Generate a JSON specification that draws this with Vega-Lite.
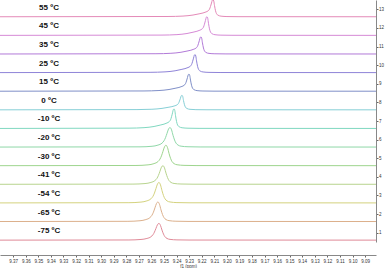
{
"$schema":"https://vega.github.io/schema/vega-lite/v6.json",
"autosize":"none","padding":{"left":0,"top":0,"right":9,"bottom":26},"width":376,"height":242,
"background":"white",
"config":{"view":{"stroke":null},"font":"Liberation Sans","axis":{"labelOverlap":false,"labelSeparation":0,"labelBound":false}},
"datasets":{
"labels":[{"t":"55 ºC","level":12.6},{"t":"45 ºC","level":11.6},{"t":"35 ºC","level":10.6},{"t":"25 ºC","level":9.6},{"t":"15 ºC","level":8.6},{"t":"0 ºC","level":7.6},{"t":"-10 ºC","level":6.6},{"t":"-20 ºC","level":5.6},{"t":"-30 ºC","level":4.6},{"t":"-41 ºC","level":3.6},{"t":"-54 ºC","level":2.6},{"t":"-65 ºC","level":1.6},{"t":"-75 ºC","level":0.6}],
"spec":[
{"t":"55 ºC","ppm":9.3805,"i":12.6},{"t":"55 ºC","ppm":9.2468,"i":12.614},{"t":"55 ºC","ppm":9.2349,"i":12.637},{"t":"55 ºC","ppm":9.2269,"i":12.692},{"t":"55 ºC","ppm":9.2221,"i":12.756},{"t":"55 ºC","ppm":9.2190,"i":12.802},{"t":"55 ºC","ppm":9.2166,"i":12.858},{"t":"55 ºC","ppm":9.2150,"i":12.913},{"t":"55 ºC","ppm":9.2138,"i":13.005},{"t":"55 ºC","ppm":9.2130,"i":13.152},{"t":"55 ºC","ppm":9.2122,"i":13.336},{"t":"55 ºC","ppm":9.2116,"i":13.483},{"t":"55 ºC","ppm":9.2110,"i":13.52},{"t":"55 ºC","ppm":9.2104,"i":13.446},{"t":"55 ºC","ppm":9.2098,"i":13.198},{"t":"55 ºC","ppm":9.2090,"i":12.922},{"t":"55 ºC","ppm":9.2082,"i":12.766},{"t":"55 ºC","ppm":9.2070,"i":12.683},{"t":"55 ºC","ppm":9.2046,"i":12.632},{"t":"55 ºC","ppm":9.1999,"i":12.611},{"t":"55 ºC","ppm":9.1911,"i":12.604},{"t":"55 ºC","ppm":9.0813,"i":12.6},
{"t":"45 ºC","ppm":9.3805,"i":11.6},{"t":"45 ºC","ppm":9.2516,"i":11.615},{"t":"45 ºC","ppm":9.2397,"i":11.64},{"t":"45 ºC","ppm":9.2317,"i":11.7},{"t":"45 ºC","ppm":9.2269,"i":11.77},{"t":"45 ºC","ppm":9.2238,"i":11.82},{"t":"45 ºC","ppm":9.2214,"i":11.88},{"t":"45 ºC","ppm":9.2198,"i":11.94},{"t":"45 ºC","ppm":9.2186,"i":12.04},{"t":"45 ºC","ppm":9.2178,"i":12.2},{"t":"45 ºC","ppm":9.2170,"i":12.4},{"t":"45 ºC","ppm":9.2164,"i":12.56},{"t":"45 ºC","ppm":9.2158,"i":12.6},{"t":"45 ºC","ppm":9.2152,"i":12.52},{"t":"45 ºC","ppm":9.2146,"i":12.25},{"t":"45 ºC","ppm":9.2138,"i":11.95},{"t":"45 ºC","ppm":9.2130,"i":11.78},{"t":"45 ºC","ppm":9.2118,"i":11.69},{"t":"45 ºC","ppm":9.2094,"i":11.635},{"t":"45 ºC","ppm":9.2047,"i":11.612},{"t":"45 ºC","ppm":9.1959,"i":11.604},{"t":"45 ºC","ppm":9.0813,"i":11.6},
{"t":"35 ºC","ppm":9.3805,"i":10.6},{"t":"35 ºC","ppm":9.2564,"i":10.614},{"t":"35 ºC","ppm":9.2445,"i":10.637},{"t":"35 ºC","ppm":9.2365,"i":10.692},{"t":"35 ºC","ppm":9.2317,"i":10.756},{"t":"35 ºC","ppm":9.2286,"i":10.802},{"t":"35 ºC","ppm":9.2262,"i":10.858},{"t":"35 ºC","ppm":9.2246,"i":10.913},{"t":"35 ºC","ppm":9.2234,"i":11.005},{"t":"35 ºC","ppm":9.2226,"i":11.152},{"t":"35 ºC","ppm":9.2218,"i":11.336},{"t":"35 ºC","ppm":9.2212,"i":11.483},{"t":"35 ºC","ppm":9.2206,"i":11.52},{"t":"35 ºC","ppm":9.2200,"i":11.446},{"t":"35 ºC","ppm":9.2194,"i":11.198},{"t":"35 ºC","ppm":9.2186,"i":10.922},{"t":"35 ºC","ppm":9.2178,"i":10.766},{"t":"35 ºC","ppm":9.2166,"i":10.683},{"t":"35 ºC","ppm":9.2142,"i":10.632},{"t":"35 ºC","ppm":9.2095,"i":10.611},{"t":"35 ºC","ppm":9.2007,"i":10.604},{"t":"35 ºC","ppm":9.0813,"i":10.6},
{"t":"25 ºC","ppm":9.3805,"i":9.6},{"t":"25 ºC","ppm":9.2611,"i":9.615},{"t":"25 ºC","ppm":9.2492,"i":9.639},{"t":"25 ºC","ppm":9.2412,"i":9.697},{"t":"25 ºC","ppm":9.2364,"i":9.765},{"t":"25 ºC","ppm":9.2333,"i":9.813},{"t":"25 ºC","ppm":9.2309,"i":9.872},{"t":"25 ºC","ppm":9.2293,"i":9.93},{"t":"25 ºC","ppm":9.2281,"i":10.027},{"t":"25 ºC","ppm":9.2273,"i":10.182},{"t":"25 ºC","ppm":9.2265,"i":10.376},{"t":"25 ºC","ppm":9.2259,"i":10.531},{"t":"25 ºC","ppm":9.2253,"i":10.57},{"t":"25 ºC","ppm":9.2247,"i":10.492},{"t":"25 ºC","ppm":9.2241,"i":10.231},{"t":"25 ºC","ppm":9.2233,"i":9.94},{"t":"25 ºC","ppm":9.2225,"i":9.775},{"t":"25 ºC","ppm":9.2213,"i":9.687},{"t":"25 ºC","ppm":9.2189,"i":9.634},{"t":"25 ºC","ppm":9.2142,"i":9.612},{"t":"25 ºC","ppm":9.2054,"i":9.604},{"t":"25 ºC","ppm":9.0813,"i":9.6},
{"t":"15 ºC","ppm":9.3805,"i":8.6},{"t":"15 ºC","ppm":9.2659,"i":8.614},{"t":"15 ºC","ppm":9.2540,"i":8.637},{"t":"15 ºC","ppm":9.2460,"i":8.692},{"t":"15 ºC","ppm":9.2412,"i":8.756},{"t":"15 ºC","ppm":9.2381,"i":8.802},{"t":"15 ºC","ppm":9.2357,"i":8.858},{"t":"15 ºC","ppm":9.2341,"i":8.913},{"t":"15 ºC","ppm":9.2329,"i":9.005},{"t":"15 ºC","ppm":9.2321,"i":9.152},{"t":"15 ºC","ppm":9.2313,"i":9.336},{"t":"15 ºC","ppm":9.2307,"i":9.483},{"t":"15 ºC","ppm":9.2301,"i":9.52},{"t":"15 ºC","ppm":9.2295,"i":9.446},{"t":"15 ºC","ppm":9.2289,"i":9.198},{"t":"15 ºC","ppm":9.2281,"i":8.922},{"t":"15 ºC","ppm":9.2273,"i":8.766},{"t":"15 ºC","ppm":9.2261,"i":8.683},{"t":"15 ºC","ppm":9.2237,"i":8.632},{"t":"15 ºC","ppm":9.2190,"i":8.611},{"t":"15 ºC","ppm":9.2102,"i":8.604},{"t":"15 ºC","ppm":9.0813,"i":8.6},
{"t":"0 ºC","ppm":9.3805,"i":7.6},{"t":"0 ºC","ppm":9.2715,"i":7.612},{"t":"0 ºC","ppm":9.2596,"i":7.631},{"t":"0 ºC","ppm":9.2516,"i":7.678},{"t":"0 ºC","ppm":9.2468,"i":7.733},{"t":"0 ºC","ppm":9.2437,"i":7.772},{"t":"0 ºC","ppm":9.2413,"i":7.818},{"t":"0 ºC","ppm":9.2397,"i":7.865},{"t":"0 ºC","ppm":9.2385,"i":7.943},{"t":"0 ºC","ppm":9.2377,"i":8.068},{"t":"0 ºC","ppm":9.2369,"i":8.224},{"t":"0 ºC","ppm":9.2363,"i":8.349},{"t":"0 ºC","ppm":9.2357,"i":8.38},{"t":"0 ºC","ppm":9.2351,"i":8.318},{"t":"0 ºC","ppm":9.2345,"i":8.107},{"t":"0 ºC","ppm":9.2337,"i":7.873},{"t":"0 ºC","ppm":9.2329,"i":7.74},{"t":"0 ºC","ppm":9.2317,"i":7.67},{"t":"0 ºC","ppm":9.2293,"i":7.627},{"t":"0 ºC","ppm":9.2246,"i":7.609},{"t":"0 ºC","ppm":9.2158,"i":7.603},{"t":"0 ºC","ppm":9.0813,"i":7.6},
{"t":"-10 ºC","ppm":9.3805,"i":6.6},{"t":"-10 ºC","ppm":9.2778,"i":6.616},{"t":"-10 ºC","ppm":9.2659,"i":6.642},{"t":"-10 ºC","ppm":9.2579,"i":6.705},{"t":"-10 ºC","ppm":9.2531,"i":6.779},{"t":"-10 ºC","ppm":9.2500,"i":6.831},{"t":"-10 ºC","ppm":9.2476,"i":6.894},{"t":"-10 ºC","ppm":9.2460,"i":6.957},{"t":"-10 ºC","ppm":9.2448,"i":7.062},{"t":"-10 ºC","ppm":9.2440,"i":7.23},{"t":"-10 ºC","ppm":9.2432,"i":7.44},{"t":"-10 ºC","ppm":9.2426,"i":7.608},{"t":"-10 ºC","ppm":9.2420,"i":7.65},{"t":"-10 ºC","ppm":9.2414,"i":7.566},{"t":"-10 ºC","ppm":9.2408,"i":7.283},{"t":"-10 ºC","ppm":9.2400,"i":6.968},{"t":"-10 ºC","ppm":9.2392,"i":6.789},{"t":"-10 ºC","ppm":9.2380,"i":6.695},{"t":"-10 ºC","ppm":9.2356,"i":6.637},{"t":"-10 ºC","ppm":9.2309,"i":6.613},{"t":"-10 ºC","ppm":9.2221,"i":6.604},{"t":"-10 ºC","ppm":9.0813,"i":6.6},
{"t":"-20 ºC","ppm":9.3805,"i":5.6},{"t":"-20 ºC","ppm":9.2691,"i":5.611},{"t":"-20 ºC","ppm":9.2595,"i":5.642},{"t":"-20 ºC","ppm":9.2548,"i":5.705},{"t":"-20 ºC","ppm":9.2516,"i":5.81},{"t":"-20 ºC","ppm":9.2500,"i":5.936},{"t":"-20 ºC","ppm":9.2488,"i":6.104},{"t":"-20 ºC","ppm":9.2476,"i":6.335},{"t":"-20 ºC","ppm":9.2464,"i":6.566},{"t":"-20 ºC","ppm":9.2452,"i":6.65},{"t":"-20 ºC","ppm":9.2440,"i":6.524},{"t":"-20 ºC","ppm":9.2428,"i":6.23},{"t":"-20 ºC","ppm":9.2416,"i":5.978},{"t":"-20 ºC","ppm":9.2404,"i":5.81},{"t":"-20 ºC","ppm":9.2388,"i":5.705},{"t":"-20 ºC","ppm":9.2364,"i":5.647},{"t":"-20 ºC","ppm":9.2309,"i":5.616},{"t":"-20 ºC","ppm":9.2213,"i":5.605},{"t":"-20 ºC","ppm":9.0813,"i":5.6},
{"t":"-30 ºC","ppm":9.3805,"i":4.6},{"t":"-30 ºC","ppm":9.2723,"i":4.611},{"t":"-30 ºC","ppm":9.2627,"i":4.644},{"t":"-30 ºC","ppm":9.2580,"i":4.71},{"t":"-30 ºC","ppm":9.2548,"i":4.82},{"t":"-30 ºC","ppm":9.2532,"i":4.952},{"t":"-30 ºC","ppm":9.2520,"i":5.128},{"t":"-30 ºC","ppm":9.2508,"i":5.37},{"t":"-30 ºC","ppm":9.2496,"i":5.612},{"t":"-30 ºC","ppm":9.2484,"i":5.7},{"t":"-30 ºC","ppm":9.2472,"i":5.568},{"t":"-30 ºC","ppm":9.2460,"i":5.26},{"t":"-30 ºC","ppm":9.2448,"i":4.996},{"t":"-30 ºC","ppm":9.2436,"i":4.82},{"t":"-30 ºC","ppm":9.2420,"i":4.71},{"t":"-30 ºC","ppm":9.2396,"i":4.65},{"t":"-30 ºC","ppm":9.2341,"i":4.617},{"t":"-30 ºC","ppm":9.2245,"i":4.606},{"t":"-30 ºC","ppm":9.0813,"i":4.6},
{"t":"-41 ºC","ppm":9.3805,"i":3.6},{"t":"-41 ºC","ppm":9.2747,"i":3.61},{"t":"-41 ºC","ppm":9.2651,"i":3.64},{"t":"-41 ºC","ppm":9.2604,"i":3.7},{"t":"-41 ºC","ppm":9.2572,"i":3.8},{"t":"-41 ºC","ppm":9.2556,"i":3.92},{"t":"-41 ºC","ppm":9.2544,"i":4.08},{"t":"-41 ºC","ppm":9.2532,"i":4.3},{"t":"-41 ºC","ppm":9.2520,"i":4.52},{"t":"-41 ºC","ppm":9.2508,"i":4.6},{"t":"-41 ºC","ppm":9.2496,"i":4.48},{"t":"-41 ºC","ppm":9.2484,"i":4.2},{"t":"-41 ºC","ppm":9.2472,"i":3.96},{"t":"-41 ºC","ppm":9.2460,"i":3.8},{"t":"-41 ºC","ppm":9.2444,"i":3.7},{"t":"-41 ºC","ppm":9.2420,"i":3.645},{"t":"-41 ºC","ppm":9.2365,"i":3.615},{"t":"-41 ºC","ppm":9.2269,"i":3.605},{"t":"-41 ºC","ppm":9.0813,"i":3.6},
{"t":"-54 ºC","ppm":9.3805,"i":2.6},{"t":"-54 ºC","ppm":9.2779,"i":2.611},{"t":"-54 ºC","ppm":9.2683,"i":2.644},{"t":"-54 ºC","ppm":9.2636,"i":2.71},{"t":"-54 ºC","ppm":9.2604,"i":2.82},{"t":"-54 ºC","ppm":9.2588,"i":2.952},{"t":"-54 ºC","ppm":9.2576,"i":3.128},{"t":"-54 ºC","ppm":9.2564,"i":3.37},{"t":"-54 ºC","ppm":9.2552,"i":3.612},{"t":"-54 ºC","ppm":9.2540,"i":3.7},{"t":"-54 ºC","ppm":9.2528,"i":3.568},{"t":"-54 ºC","ppm":9.2516,"i":3.26},{"t":"-54 ºC","ppm":9.2504,"i":2.996},{"t":"-54 ºC","ppm":9.2492,"i":2.82},{"t":"-54 ºC","ppm":9.2476,"i":2.71},{"t":"-54 ºC","ppm":9.2452,"i":2.65},{"t":"-54 ºC","ppm":9.2397,"i":2.617},{"t":"-54 ºC","ppm":9.2301,"i":2.606},{"t":"-54 ºC","ppm":9.0813,"i":2.6},
{"t":"-65 ºC","ppm":9.3805,"i":1.6},{"t":"-65 ºC","ppm":9.2787,"i":1.611},{"t":"-65 ºC","ppm":9.2691,"i":1.642},{"t":"-65 ºC","ppm":9.2644,"i":1.705},{"t":"-65 ºC","ppm":9.2612,"i":1.81},{"t":"-65 ºC","ppm":9.2596,"i":1.936},{"t":"-65 ºC","ppm":9.2584,"i":2.104},{"t":"-65 ºC","ppm":9.2572,"i":2.335},{"t":"-65 ºC","ppm":9.2560,"i":2.566},{"t":"-65 ºC","ppm":9.2548,"i":2.65},{"t":"-65 ºC","ppm":9.2536,"i":2.524},{"t":"-65 ºC","ppm":9.2524,"i":2.23},{"t":"-65 ºC","ppm":9.2512,"i":1.978},{"t":"-65 ºC","ppm":9.2500,"i":1.81},{"t":"-65 ºC","ppm":9.2484,"i":1.705},{"t":"-65 ºC","ppm":9.2460,"i":1.647},{"t":"-65 ºC","ppm":9.2405,"i":1.616},{"t":"-65 ºC","ppm":9.2309,"i":1.605},{"t":"-65 ºC","ppm":9.0813,"i":1.6},
{"t":"-75 ºC","ppm":9.3805,"i":0.6},{"t":"-75 ºC","ppm":9.2779,"i":0.609},{"t":"-75 ºC","ppm":9.2683,"i":0.636},{"t":"-75 ºC","ppm":9.2636,"i":0.69},{"t":"-75 ºC","ppm":9.2604,"i":0.78},{"t":"-75 ºC","ppm":9.2588,"i":0.888},{"t":"-75 ºC","ppm":9.2576,"i":1.032},{"t":"-75 ºC","ppm":9.2564,"i":1.23},{"t":"-75 ºC","ppm":9.2552,"i":1.428},{"t":"-75 ºC","ppm":9.2540,"i":1.5},{"t":"-75 ºC","ppm":9.2528,"i":1.392},{"t":"-75 ºC","ppm":9.2516,"i":1.14},{"t":"-75 ºC","ppm":9.2504,"i":0.924},{"t":"-75 ºC","ppm":9.2492,"i":0.78},{"t":"-75 ºC","ppm":9.2476,"i":0.69},{"t":"-75 ºC","ppm":9.2452,"i":0.641},{"t":"-75 ºC","ppm":9.2397,"i":0.614},{"t":"-75 ºC","ppm":9.2301,"i":0.605},{"t":"-75 ºC","ppm":9.0813,"i":0.6}
]},
"layer":[
{"data":{"name":"spec"},
 "mark":{"type":"line","interpolate":"monotone","strokeWidth":1,"clip":false},
 "encoding":{
  "x":{"field":"ppm","type":"quantitative","scale":{"domain":[9.0813,9.3805],"reverse":true,"nice":false,"zero":false},
   "axis":{"values":[9.09,9.1,9.11,9.12,9.13,9.14,9.15,9.16,9.17,9.18,9.19,9.2,9.21,9.22,9.23,9.24,9.25,9.26,9.27,9.28,9.29,9.3,9.31,9.32,9.33,9.34,9.35,9.36,9.37],
    "tickCount":40,"format":".2f","offset":13,"grid":false,"title":"f1 (ppm)","titleFontSize":4.5,"titleFontWeight":"normal","titlePadding":0.5,"titleColor":"#333",
    "labelFontSize":4.5,"labelColor":"#333","labelPadding":1,"tickSize":2,"tickColor":"#666","domainColor":"#888","labelOverlap":false,"labelFlush":false}},
  "y":{"field":"i","type":"quantitative","scale":{"domain":[0.5,13.5],"nice":false,"zero":false},
   "axis":{"orient":"right","values":[1,2,3,4,5,6,7,8,9,10,11,12,13],"format":"d","tickCount":20,"grid":false,"title":null,"labelFontSize":4.5,"labelColor":"#333","tickSize":2,"labelPadding":0.5,"tickColor":"#666","domainColor":"#888","labelOverlap":false}},
  "color":{"field":"t","type":"nominal","legend":null,
   "scale":{"domain":["55 ºC","45 ºC","35 ºC","25 ºC","15 ºC","0 ºC","-10 ºC","-20 ºC","-30 ºC","-41 ºC","-54 ºC","-65 ºC","-75 ºC"],
    "range":["#e48ab8","#d68ad6","#b27ad8","#8f84d8","#7f8fc8","#86cfd6","#80d8c0","#8fd8a8","#9ed58e","#b8d48e","#d4d27e","#dcb08c","#e08a98"]}}
 }},
{"data":{"name":"labels"},
 "mark":{"type":"text","fontSize":8,"fontWeight":"bold","font":"Liberation Sans","color":"#111","dy":-9,"align":"center","baseline":"middle"},
 "encoding":{
  "x":{"datum":9.3415,"type":"quantitative"},
  "y":{"field":"level","type":"quantitative"},
  "text":{"field":"t"}
 }}
]
}
